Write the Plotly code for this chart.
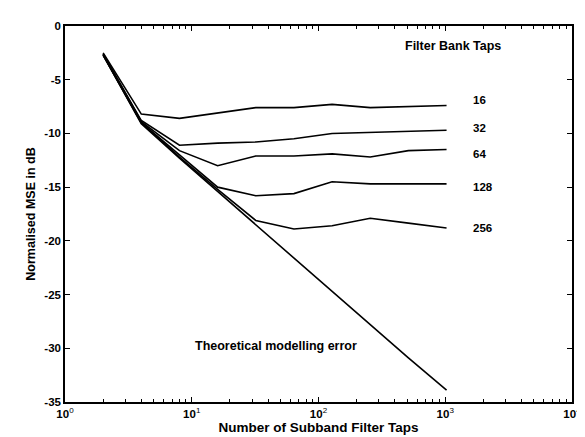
import plotly.graph_objects as go

taps = [2, 4, 8, 16, 32, 64, 128, 256, 512, 1024]
mse_16 = [-2.5, -8.2, -8.6, -8.1, -7.6, -7.6, -7.3, -7.6, -7.5, -7.4]
mse_32 = [-2.6, -8.8, -11.1, -10.9, -10.8, -10.5, -10.0, -9.9, -9.8, -9.7]
mse_64 = [-2.6, -8.9, -11.6, -13.0, -12.1, -12.1, -11.9, -12.2, -11.6, -11.5]
mse_128 = [-2.7, -9.0, -12.0, -15.0, -15.8, -15.6, -14.5, -14.7, -14.7, -14.7]
mse_256 = [-2.7, -9.0, -12.2, -15.2, -18.1, -18.9, -18.6, -17.9, -18.35, -18.8]
mse_theory = [-2.7, -9.1, -12.3, -15.4, -18.5, -21.6, -24.7, -27.8, -30.9, -33.9]

series = [("16", mse_16), ("32", mse_32), ("64", mse_64), ("128", mse_128),
          ("256", mse_256), ("Theoretical", mse_theory)]

x_major = [1, 10, 100, 1000, 10000]
x_major_text = ["<b>10</b><sup>0</sup>", "<b>10</b><sup>1</sup>", "<b>10</b><sup>2</sup>",
                "<b>10</b><sup>3</sup>", "<b>10</b><sup>4</sup>"]
x_minor = [m * d for d in [1, 10, 100, 1000] for m in range(2, 10)]
y_ticks = [0, -5, -10, -15, -20, -25, -30, -35]
y_tick_text = ["<b>%d</b>" % v for v in y_ticks]

label_names = ["16", "32", "64", "128", "256"]
label_y = [-6.9, -9.5, -11.9, -15.0, -18.8]

FONT = "Liberation Sans, Arial, sans-serif"

fig = go.Figure()
for name, vals in series:
    fig.add_trace(go.Scatter(x=taps, y=vals, mode="lines", name=name,
                             line=dict(color="black", width=1.6), showlegend=False))

for name, yv in zip(label_names, label_y):
    fig.add_annotation(x=3.2, y=yv, xref="x", yref="y", text="<b>%s</b>" % name,
                       showarrow=False, xanchor="left", yanchor="middle",
                       font=dict(family=FONT, size=11.5, color="black"))
fig.add_annotation(x=3.06, y=-1.9, xref="x", yref="y", text="<b>Filter Bank Taps</b>",
                   showarrow=False, xanchor="center", yanchor="middle",
                   font=dict(family=FONT, size=12.5, color="black"))
fig.add_annotation(x=1.667, y=-29.8, xref="x", yref="y",
                   text="<b>Theoretical modelling error</b>",
                   showarrow=False, xanchor="center", yanchor="middle",
                   font=dict(family=FONT, size=12.5, color="black"))

fig.update_layout(
    width=585, height=437,
    margin=dict(l=57, r=12, t=17, b=42),
    paper_bgcolor="white", plot_bgcolor="white",
    font=dict(family=FONT, size=12, color="black"),
    xaxis=dict(type="log", range=[0, 4], tickmode="array", tickvals=x_major,
               ticktext=x_major_text, ticks="inside", ticklen=5, tickwidth=1,
               tickcolor="black", showline=True, linecolor="black", linewidth=1.5,
               mirror="allticks", showgrid=False, zeroline=False,
               minor=dict(tickmode="array", tickvals=x_minor, ticks="inside",
                          ticklen=3, tickwidth=1, tickcolor="black", showgrid=False),
               title=dict(text="<b>Number of Subband Filter Taps</b>", standoff=4,
                          font=dict(size=13.5)),
               tickfont=dict(size=11.5)),
    yaxis=dict(range=[-35, 0], tickmode="array", tickvals=y_ticks, ticktext=y_tick_text,
               ticks="inside", ticklen=5, tickwidth=1, tickcolor="black",
               showline=True, linecolor="black", linewidth=1.5, mirror="allticks",
               showgrid=False, zeroline=False,
               title=dict(text="<b>Normalised MSE in dB</b>", standoff=6,
                          font=dict(size=12.5)),
               tickfont=dict(size=11.5)),
)

fig.write_html("out.html")
